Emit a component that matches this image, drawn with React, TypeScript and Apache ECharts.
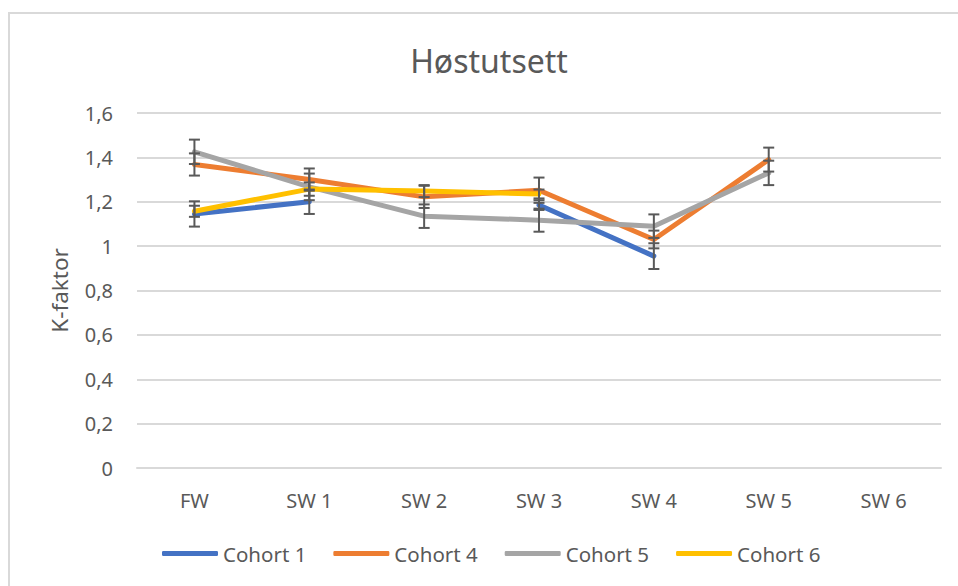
import React, { useEffect, useRef } from "react";
import * as echarts from "echarts";

const categories = ["FW", "SW 1", "SW 2", "SW 3", "SW 4", "SW 5", "SW 6"];
const seriesNames = ["Cohort 1", "Cohort 4", "Cohort 5", "Cohort 6"];
const cohort1 = [1.145, 1.2, null, 1.185, 0.955, null, null];
const cohort4 = [1.368, 1.3, 1.222, 1.252, 1.03, 1.39, null];
const cohort5 = [1.425, 1.267, 1.135, 1.117, 1.09, 1.33, null];
const cohort6 = [1.157, 1.257, 1.248, 1.235, null, null, null];
const cohort1Err = [0.057, 0.055, null, 0.022, 0.058, null, null];
const cohort4Err = [0.05, 0.05, 0.05, 0.057, 0.04, 0.054, null];
const cohort5Err = [0.055, 0.06, 0.053, 0.052, 0.053, 0.055, null];
const cohort6Err = [0.025, 0.03, 0.027, 0.02, null, null, null];
const colors = ["#4472C4", "#ED7D31", "#A5A5A5", "#FFC000"];

const FONT = "Noto Sans";
const TXT = "#595959";

export default function App() {
  const ref = useRef<HTMLDivElement>(null);
  useEffect(() => {
    document.body.style.margin = "0";
    const chart = echarts.init(ref.current!, undefined, { renderer: "svg" });
    const values = [cohort1, cohort4, cohort5, cohort6];
    const errs = [cohort1Err, cohort4Err, cohort5Err, cohort6Err];
    const lineSeries = values.map((v, i) => ({
      name: seriesNames[i],
      type: "line",
      data: v,
      symbol: "none",
      connectNulls: false,
      lineStyle: { color: colors[i], width: 5, cap: "round", join: "round" },
      itemStyle: { color: colors[i] },
      z: 2 + i,
    }));
    const errSeries = values.map((v, i) => ({
      name: seriesNames[i] + " err",
      type: "custom",
      z: 10,
      data: v
        .map((m, j) => (m == null || errs[i][j] == null ? null : [j, m, errs[i][j]]))
        .filter((d) => d !== null),
      renderItem: (params: any, api: any) => {
        const x = api.value(0);
        const m = api.value(1);
        const e = api.value(2);
        const top = api.coord([x, m + e]);
        const bot = api.coord([x, m - e]);
        const hw = 5.5;
        const st = { stroke: "#595959", lineWidth: 2 };
        return {
          type: "group",
          children: [
            { type: "line", shape: { x1: top[0], y1: top[1], x2: bot[0], y2: bot[1] }, style: st },
            { type: "line", shape: { x1: top[0] - hw, y1: top[1], x2: top[0] + hw, y2: top[1] }, style: st },
            { type: "line", shape: { x1: bot[0] - hw, y1: bot[1], x2: bot[0] + hw, y2: bot[1] }, style: st },
          ],
        };
      },
      encode: { x: 0, y: 1 },
      silent: true,
    }));
    chart.setOption({
      animation: false,
      color: colors,
      graphic: [
        {
          type: "rect",
          shape: { x: 9, y: 13, width: 970, height: 600 },
          style: { fill: "none", stroke: "#d9d9d9", lineWidth: 2 },
          z: -10,
        },
        {
          type: "text",
          x: 489,
          y: 60,
          style: {
            text: "Høstutsett",
            fill: TXT,
            font: `32px "${FONT}"`,
            textAlign: "center",
            textVerticalAlign: "middle",
          },
        },
      ],
      grid: { left: 137, right: 17, top: 113, bottom: 118, containLabel: false },
      legend: {
        data: seriesNames,
        left: 157,
        top: 538,
        icon: "roundRect",
        itemWidth: 56,
        itemHeight: 5,
        itemGap: 27,
        textStyle: { color: TXT, fontSize: 20.5, fontFamily: FONT },
      },
      xAxis: {
        type: "category",
        data: categories,
        boundaryGap: true,
        axisLine: { lineStyle: { color: "#d9d9d9", width: 2 } },
        axisTick: { show: false },
        axisLabel: { color: TXT, fontSize: 20, fontFamily: FONT, margin: 22 },
      },
      yAxis: {
        type: "value",
        min: 0,
        max: 1.6,
        interval: 0.2,
        name: "K-faktor",
        nameLocation: "middle",
        nameGap: 66,
        nameTextStyle: { color: TXT, fontSize: 22.5, fontFamily: FONT },
        axisLine: { show: false },
        axisTick: { show: false },
        splitLine: { lineStyle: { color: "#d9d9d9", width: 2 } },
        axisLabel: {
          color: TXT,
          fontSize: 20,
          fontFamily: FONT,
          margin: 24,
          formatter: (v: number) => String(Math.round(v * 10) / 10).replace(".", ","),
        },
      },
      series: [...lineSeries, ...errSeries],
    });
    return () => chart.dispose();
  }, []);
  return <div ref={ref} style={{ width: 958, height: 586 }} />;
}
